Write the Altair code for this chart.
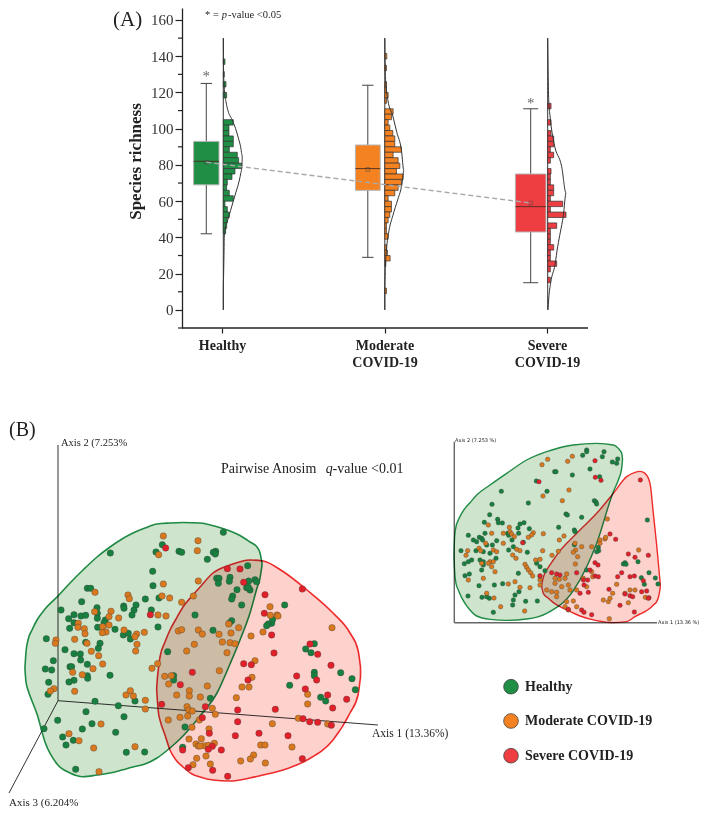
import altair as alt
import pandas as pd

SERIF = "Liberation Serif"
GROUPS = ["Healthy", "Moderate COVID-19", "Severe COVID-19"]
FILLS = ["#1f8f45", "#f58220", "#ee3e42"]
PT = ["#17803f", "#d9791f", "#e2202a"]

# ---------- Panel A values ----------
pos = [1, 2, 3]
box_lo = [69, 66, 43]
box_hi = [93, 91, 75]
median = [82, 78, 57]
mean = [81.5, 77.5, 59]
whisk_lo = [42, 29, 15]
whisk_hi = [125, 124, 111]
box_half = [12.7, 12.4, 15.3]
box_center = [-15.7, -16.7, -16.3]
cap_half = [5.7, 5.7, 7.5]

bins_h = [137, 130, 124.5, 118.5, 103.5, 100.5, 97.5, 94.5, 91.5, 88.5, 85.5, 82.5, 79.5, 76.5, 73.5, 70.5, 67.5, 64.5, 61.5, 58.5, 55.5, 52.5, 49.5, 46.5, 43.5]
freq_h = [5, 3, 8, 10, 30, 17, 17, 30, 30, 18, 42, 46, 55, 35, 26, 12, 10, 18, 30, 5, 12, 18, 12, 10, 7]
bins_m = [140, 133.5, 124.5, 121.5, 118.5, 115.5, 109.5, 106.5, 103.5, 100.5, 97.5, 94.5, 91.5, 88.5, 85.5, 82.5, 79.5, 76.5, 73.5, 70.5, 67.5, 64.5, 61.5, 58.5, 55.5, 52.5, 49.5, 46.5, 43.5, 40.5, 34.5, 31.5, 28.5, 25.5, 10.5]
freq_m = [6, 5, 5, 5, 10, 5, 25, 20, 10, 15, 24, 30, 30, 50, 25, 40, 45, 35, 55, 50, 40, 30, 10, 20, 20, 15, 10, 5, 5, 10, 5, 8, 16, 3, 5]
bins_s = [112.5, 103.5, 97.5, 94.5, 91.5, 88.5, 85.5, 82.5, 76.5, 73.5, 70.5, 67.5, 64.5, 61.5, 58.5, 55.5, 52.5, 46.5, 43.5, 40.5, 37.5, 34.5, 31.5, 28.5, 25.5, 22.5, 16.5]
freq_s = [10, 10, 10, 18, 18, 8, 18, 8, 10, 8, 8, 18, 18, 8, 45, 8, 55, 27, 8, 8, 8, 18, 8, 8, 27, 8, 8]

curve_y_h = [0, 10, 20, 30, 40, 45, 50, 55, 60, 65, 70, 75, 80, 85, 90, 95, 100, 105, 110, 115, 120, 130, 150]
curve_w_h = [0, 0, 1, 2, 3, 6, 14, 22, 30, 38, 46, 52, 56, 57, 52, 45, 37, 26, 14, 8, 4, 1, 0]
curve_y_m = [0, 10, 24, 33, 42, 52, 61, 70, 77, 88, 98, 107, 116, 125, 135, 150]
curve_w_m = [0, 0, 2, 5, 11, 24, 39, 52, 57, 50, 36, 24, 9, 3, 1, 0]
curve_y_s = [0, 6, 15, 25, 35, 43, 52, 64.5, 79, 92, 107, 116, 135, 150]
curve_w_s = [1, 3, 9, 22, 30, 38, 47, 55, 42, 19, 7, 3, 1, 0]

major_ticks = list(range(0, 161, 20))
minor_ticks = [-10, 10, 30, 50, 70, 90, 110, 130, 150]

# ---------- Panel B values (ordination positions) ----------
main_green = [(487,104),(468,126),(537,124),(545,127),(331,129),(458,184),(459,227),(262,235),(272,235),(436,267),(477,264),(245,275),(183,300),(291,293),(371,288),(372,295),(408,285),(402,300),(396,315),(454,300),(222,314),(206,326),(222,338),(243,318),(257,316),(292,310),(292,325),(316,330),(312,338),(209,355),(293,352),(345,358),(474,351),(139,386),(370,375),(385,370),(391,387),(257,397),(300,400),(295,415),(195,419),(222,431),(241,432),(242,450),(160,452),(262,463),(136,477),(155,480),(210,470),(215,470),(330,496),(262,497),(263,505),(146,517),(222,511),(207,516),(144,553),(285,574),(355,587),(405,573),(258,605),(372,620),(173,631),(132,656),(276,641),(247,657),(347,667),(188,681),(220,691),(198,705),(379,727),(434,726),(227,778),(503,425),(585,315),(521,497),(521,510),(555,651),
 (670,67),(647,124),(640,127),(646,132),(622,148),(743,167),(650,205),(657,205),(690,202),(688,214),(655,220),(746,213),(765,209),(770,215),(711,239),(740,233),(750,240),(745,232),(698,258),(695,267),(725,285),(854,285),(695,332),(688,340),(639,361),(815,340),(818,328),(805,342),(800,347),(917,417),(933,428),(943,401),(943,487),(943,497),(1022,488),(1056,506),(869,526),(1066,539),(962,562),(977,573),(631,565),(548,712)]
main_orange = [(490,78),(476,134),(490,222),(285,247),(384,255),(388,266),(486,258),(509,264),(545,277),(580,258),(333,304),(327,320),(356,324),(284,305),(474,315),(498,318),(235,340),(234,352),(253,356),(255,371),(327,345),(308,350),(318,366),(307,368),(372,360),(410,372),(405,380),(433,367),(168,390),(166,400),(224,388),(261,400),(411,403),(407,423),(274,424),(296,437),(308,462),(279,476),(218,487),(247,494),(456,475),(473,461),(162,536),(151,543),(224,544),(378,555),(391,542),(400,558),(436,571),(436,597),(303,642),(207,671),(237,692),(281,714),(405,710),(297,785),(535,363),(545,359),(583,403),(560,423),(595,360),(494,499),(514,497),(506,522),(530,555),(568,542),(568,558),(561,590),(566,600),(577,603),(505,630),(540,622),(563,618),(567,687),(588,702),(595,708),(590,745),(579,764),(595,213),(594,92),(592,122),(576,652),(598,630),
 (657,373),(607,372),(716,353),(693,369),(667,396),(690,398),(705,401),(681,428),(686,342),(810,290),(811,316),(831,315),(834,318),(753,378),(789,366),(996,353),(765,452),(756,502),(726,531),(747,531),(709,563),(658,482),(622,528),(601,561),(637,595),(646,613),(923,553),(923,582),(817,641),(895,625),(983,642),(876,711),(782,705),(795,705),(761,735),(751,747),(722,753),(796,759),(627,657),(604,686),(643,700),(613,707),(625,706),(618,738),(631,762),(600,708)]
main_red = [(497,114),(451,314),(577,487),(541,524),(485,583),(548,720),(565,773),
 (682,176),(720,177),(731,217),(795,254),(907,237),(793,310),(815,375),(822,429),(731,461),(754,464),(744,510),(890,498),(950,510),(916,537),(993,466),(983,555),(1040,568),(998,594),(826,598),(713,600),(713,635),(607,623),(616,590),(706,677),(777,670),(864,677),(628,670),(637,709),(625,718),(664,720),(683,799),(638,781),(907,746),(909,626),(929,635),(953,637),(994,646),(953,433),(930,402)]

inset_green = [(440,60),(440,65),(492,65),(428,76),(487,80),(533,87),(517,96),(530,100),(397,135),(450,117),(479,140),(344,125),(348,125),(289,153),(184,184),(321,184),(265,219),(156,223),(463,212),(468,216),(470,222),(425,262),(378,252),(382,255),(149,254),(133,277),(173,268),(175,278),(187,279),(252,278),(240,282),(234,294),(268,296),(356,292),(622,270),(85,316),(100,330),(110,335),(118,322),(125,325),(135,310),(203,310),(206,316),(216,330),(236,310),(403,300),(405,305),(170,332),(157,345),(140,345),(128,330),(250,337),(220,350),(206,360),(63,362),(108,362),(85,395),(73,401),(95,390),(130,365),(120,390),(130,395),(150,370),(168,385),(262,367),(290,400),(300,410),(403,344),(475,352),(476,362),(470,365),(555,398),(550,402),(558,403),(594,395),(604,443),(627,428),(646,444),(654,462),(613,463),(75,437),(88,432),(117,467),(163,465),(188,461),(235,430),(125,420),(130,405),(237,485),(225,495),(220,510),(84,498),(126,502),(148,505),(140,500),(218,525),(257,514),(292,513),(160,547),(315,422),(440,420)]
inset_orange = [(323,88),(306,104),(383,94),(397,79),(367,212),(309,198),(387,180),(145,285),(208,292),(210,305),(190,310),(215,312),(223,320),(155,310),(280,308),(310,311),(275,315),(265,322),(358,330),(372,318),(117,355),(122,362),(83,362),(78,376),(137,340),(160,360),(170,365),(190,340),(230,358),(240,362),(228,385),(218,375),(150,395),(160,395),(145,400),(155,410),(125,400),(287,390),(300,388),(255,403),(260,412),(265,420),(272,428),(278,438),(308,362),(355,364),(336,376),(165,425),(130,445),(85,450),(205,462),(225,455),(240,472),(270,473),(300,450),(300,465),(140,490),(162,504),(182,530),(254,543),(502,267),(495,327),(480,330),(497,322),(480,340),(405,340),(407,360),(400,367),(413,380),(425,350),(455,350),(406,402),(380,432),(375,445),(358,448),(345,445),(345,460),(365,470),(385,465),(390,480),(410,480),(320,480),(335,485),(350,487),(350,500),(375,530),(380,515),(400,513),(410,530),(455,425),(458,440),(430,445),(440,470),(490,510),(505,515),(510,505),(518,490),(530,463),(555,490),(565,518),(570,480),(596,360),(616,502),(585,480),(508,566),(385,540),(300,440)]
inset_red = [(465,92),(466,142),(483,151),(297,155),(601,150),(248,338),(510,312),(527,328),(565,372),(585,382),(625,376),(465,398),(474,405),(335,428),(350,432),(360,435),(410,428),(450,420),(465,438),(475,440),(443,450),(430,450),(432,465),(570,440),(583,438),(545,428),(533,440),(610,452),(605,485),(620,483),(627,503),(507,478),(555,492),(570,497),(578,500),(540,526),(425,540),(432,547),(455,554),(583,546),(385,538),(300,437),(420,490),(445,487),(625,505)]

hull_main_green_x = [25, 26, 28, 32, 37, 45, 57, 70, 83, 97, 110, 122, 133, 145, 157, 170, 183, 200, 217, 230, 240, 250, 257, 260, 262]
hull_main_green_t = [667, 652, 640, 630, 620, 609, 597, 583, 570, 557, 547, 539, 533, 528, 524, 523, 522.5, 523, 526.7, 531, 535.5, 542, 547, 553, 563]
hull_main_green_b = [670, 682, 690, 701, 714, 742, 764, 773, 776.7, 775, 773, 770, 767, 764, 758, 748, 736, 716, 693, 664, 640, 613, 588, 578, 565]
hull_main_red_x = [156.7, 157.5, 158.5, 160, 165, 170, 176, 183, 192, 200, 213, 230, 250, 263, 283, 307, 333, 350, 358, 360.5]
hull_main_red_t = [688, 677, 668, 657, 642, 630, 619, 607, 596, 587, 573, 565, 560, 561, 571.5, 590, 613, 633, 650, 667]
hull_main_red_b = [690, 702, 713, 720, 735, 750, 760, 767, 774, 777, 780, 781, 778, 775, 770, 760, 740, 713, 695, 677]
hull_inset_green_x = [42, 44, 48, 55, 65, 75, 90, 110, 150, 200, 260, 320, 400, 470, 520, 535, 545, 547.5]
hull_inset_green_t = [370, 318, 290, 270, 250, 235, 218, 195, 165, 130, 90, 65, 45, 40, 45, 55, 70, 85]
hull_inset_green_b = [380, 425, 460, 480, 503, 520, 540, 558, 568, 571, 567, 550, 482, 340, 185, 150, 115, 90]
hull_inset_red_x = [305, 310, 325, 340, 360, 380, 420, 470, 520, 560, 585, 600, 615, 630, 640, 650, 657, 661]
hull_inset_red_t = [465, 442, 412, 390, 362, 340, 300, 250, 190, 140, 127, 124, 130, 160, 250, 345, 420, 465]
hull_inset_red_b = [470, 490, 505, 518, 530, 540, 558, 572, 578, 575, 560, 552, 545, 535, 525, 515, 495, 470]

# ---------- Panel A ----------
W = 693
U = 162.5        # px per x unit
V = 1.8125       # px per y unit
X = lambda p: 1 + (p - 222) / U
Y = lambda p: (310 - p) / V
xs = alt.Scale(domain=[X(8), X(8 + W)], nice=False, zero=False)
ys = alt.Scale(domain=[-10, Y(8)], nice=False, zero=False)
cs = alt.Scale(domain=GROUPS, range=FILLS)
axis_x = alt.Axis(
    values=pos, title=None, grid=False, domain=False, tickSize=5, tickColor="#222", tickWidth=1.2,
    labelFont=SERIF, labelFontWeight="bold", labelFontSize=14, labelColor="#222",
    labelPadding=5, labelLineHeight=17,
    labelExpr="datum.value==1?'Healthy':datum.value==2?['Moderate','COVID-19']:['Severe','COVID-19']")
axis_y = alt.Axis(
    values=major_ticks, offset=-174, title="Species richness", grid=False,
    domainColor="#222", domainWidth=1.3, tickColor="#222", tickWidth=1.2, tickSize=7,
    labelFont=SERIF, labelFontSize=15, labelColor="#333", labelPadding=2,
    titleFont=SERIF, titleFontSize=17, titleFontWeight="bold", titleColor="#222",
    titlePadding=6, titleY=153)
xq = lambda f: alt.X(f, type="quantitative", scale=xs, axis=axis_x)
yq = lambda f: alt.Y(f, type="quantitative", scale=ys, axis=axis_y)
col = alt.Color("g:N", scale=cs, legend=None)

box = pd.DataFrame({
    "g": GROUPS, "p": pos, "lo": box_lo, "hi": box_hi, "med": median, "mean": mean,
    "wl": whisk_lo, "wh": whisk_hi})
box["c"] = box.p + pd.Series(box_center) / U
box["x0"] = box.c - pd.Series(box_half) / U
box["x1"] = box.c + pd.Series(box_half) / U
box["c0"] = box.c - pd.Series(cap_half) / U
box["c1"] = box.c + pd.Series(cap_half) / U

base_off = [1.3, 0.3, 0.7]
hist = pd.concat([
    pd.DataFrame({"g": GROUPS[i], "b": b, "f": f, "p": pos[i] + base_off[i] / U})
    for i, (b, f) in enumerate([(bins_h, freq_h), (bins_m, freq_m), (bins_s, freq_s)])])
hist["x0"] = hist.p
hist["x1"] = hist.p + hist.f / 3 / U
hist["y0"] = hist.b - 1.5
hist["y1"] = hist.b + 1.5

curve = pd.concat([
    pd.DataFrame({"g": GROUPS[i], "y": cy, "w": cw, "p": pos[i] + base_off[i] / U})
    for i, (cy, cw) in enumerate([(curve_y_h, curve_w_h), (curve_y_m, curve_w_m), (curve_y_s, curve_w_s)])])
curve["x"] = curve.p + curve.w / 3 / U

spine_df = pd.DataFrame({"p": [pos[i] + base_off[i] / U for i in range(3)], "a": [0, 0, 0], "b": [150, 150, 150]})
x_line = pd.DataFrame({"a": [X(182)], "b": [X(588)], "y": [-10]})
minor = pd.DataFrame({"y": minor_ticks, "a": X(182) - 4 / U, "b": X(182)})
trend = pd.DataFrame({"x": [box.c[0], box.c[2]], "y": [mean[0], mean[2]]})
stars = pd.DataFrame({"x": [box.c[0], box.c[2]], "y": [Y(76), Y(103)], "t": ["*", "*"]})

frame = alt.Chart(x_line).mark_rule(color="#222", strokeWidth=1.3).encode(x=xq("a"), x2="b:Q", y=yq("y"))
minors = alt.Chart(minor).mark_rule(color="#222", strokeWidth=1.2).encode(x=xq("a"), x2="b:Q", y=yq("y"))
whisk = alt.Chart(box).mark_rule(color="#444", strokeWidth=1).encode(x=xq("c"), y=yq("wl"), y2="wh:Q")
cap_l = alt.Chart(box).mark_rule(color="#444", strokeWidth=1).encode(x=xq("c0"), x2="c1:Q", y=yq("wl"))
cap_h = alt.Chart(box).mark_rule(color="#444", strokeWidth=1).encode(x=xq("c0"), x2="c1:Q", y=yq("wh"))
boxes = alt.Chart(box).mark_rect(stroke="#b5b5b5", strokeWidth=1).encode(
    x=xq("x0"), x2="x1:Q", y=yq("lo"), y2="hi:Q", color=col)
meds = alt.Chart(box).mark_rule(color="#4a2a20", strokeWidth=1.1, strokeOpacity=0.8).encode(x=xq("x0"), x2="x1:Q", y=yq("med"))
means = alt.Chart(box).mark_point(shape="square", size=14, stroke="#444", strokeWidth=0.7, filled=False).encode(x=xq("c"), y=yq("mean"))
spine = alt.Chart(spine_df).mark_rule(color="#333", strokeWidth=1).encode(x=xq("p"), y=yq("a"), y2="b:Q")
bars = alt.Chart(hist).mark_rect(stroke="#333333", strokeWidth=0.7).encode(
    x=xq("x0"), x2="x1:Q", y=yq("y0"), y2="y1:Q", color=col)
curves = alt.Chart(curve).mark_line(color="#333", strokeWidth=1, interpolate="monotone").encode(
    x=xq("x"), y=yq("y"), detail="g:N", order="y:Q")
trendline = alt.Chart(trend).mark_line(color="#a8a8a8", strokeWidth=1.4, strokeDash=[5, 3]).encode(x=xq("x"), y=yq("y"))
star_text = alt.Chart(stars).mark_text(font=SERIF, fontSize=15, color="#666", baseline="middle").encode(x=xq("x"), y=yq("y"), text="t:N")


def label(x, y, t, size, enc_x, enc_y, **kw):
    d = pd.DataFrame({"x": [x], "y": [y], "t": [t]})
    base = dict(font=SERIF, fontSize=size, align="left", baseline="middle", color="#222")
    base.update(kw)
    return alt.Chart(d).mark_text(**base).encode(x=enc_x("x"), y=enc_y("y"), text="t:N")


top = alt.layer(
    frame, minors, whisk, cap_l, cap_h, boxes, meds, means, spine, bars, curves, trendline, star_text,
    label(X(113), Y(20), "(A)", 21, xq, yq),
    label(X(205), Y(15), "* = ", 10.5, xq, yq),
    label(X(221.7), Y(15), "p", 10.5, xq, yq, fontStyle="italic"),
    label(X(228), Y(15), "-value <0.05", 10.5, xq, yq),
).properties(width=W, height=320)

# ---------- Panel B ----------
TOP_B = 378
BOT_B = 810
bx = alt.Scale(domain=[8, 8 + W], nice=False, zero=False)
by = alt.Scale(domain=[BOT_B, TOP_B], nice=False, zero=False)
bxq = lambda f: alt.X(f, type="quantitative", scale=bx, axis=None)
byq = lambda f: alt.Y(f, type="quantitative", scale=by, axis=None)


def hull(xv, tv, bv, fill, stroke, sw, dx=0.0, dy=0.0, k=1.0):
    d = pd.DataFrame({"x": xv, "t": tv, "b": bv})
    d["x"] = dx + d.x / k
    d["t"] = dy + d.t / k
    d["b"] = dy + d.b / k
    return alt.Chart(d).mark_area(
        interpolate="monotone", fill=fill, stroke=stroke, strokeWidth=sw, blend="multiply"
    ).encode(x=bxq("x"), y=byq("t"), y2="b:Q")


def pts(points, color, size, dx, dy):
    d = pd.DataFrame(points, columns=["x", "y"])
    d["x"] = dx + d.x / 3
    d["y"] = dy + d.y / 3
    return alt.Chart(d).mark_circle(size=size, color=color, opacity=1, stroke="#3a3a3a", strokeWidth=0.5, strokeOpacity=0.7).encode(
        x=bxq("x"), y=byq("y"))


def seg(x0, y0, x1, y1, color, sw):
    d = pd.DataFrame({"a": [x0], "b": [x1], "c": [y0], "e": [y1]})
    return alt.Chart(d).mark_rule(color=color, strokeWidth=sw).encode(x=bxq("a"), x2="b:Q", y=byq("c"), y2="e:Q")


GF, GS = "#cfe4cd", "#1f8a44"
RF, RS = "#fdd2cd", "#ee2b2b"

legend_df = pd.DataFrame({"g": GROUPS, "x": [511, 511, 511], "y": [686.7, 721, 755.7]})
legend_pts = alt.Chart(legend_df).mark_circle(size=215, opacity=1, stroke="#444", strokeWidth=0.8).encode(
    x=bxq("x"), y=byq("y"), color=alt.Color("g:N", scale=alt.Scale(domain=GROUPS, range=["#1c8445", "#ee7d2b", "#ee2b2b"]), legend=None))
legend_df["tx"] = 525
legend_txt = alt.Chart(legend_df).mark_text(font=SERIF, fontSize=14, fontWeight="bold", align="left", baseline="middle", color="#222").encode(
    x=bxq("tx"), y=byq("y"), text="g:N")

SANS = "DejaVu Sans"
bottom = alt.layer(
    seg(58, 700.7, 58, 445, "#333", 1),
    seg(58, 700.7, 378, 725, "#333", 1),
    seg(58, 700.7, 9, 793, "#333", 1),
    seg(454.3, 622.7, 454.3, 441.7, "#666", 1.4),
    seg(454.3, 622.7, 657, 622.7, "#666", 1.4),
    hull(hull_main_green_x, hull_main_green_t, hull_main_green_b, GF, GS, 1.6),
    hull(hull_main_red_x, hull_main_red_t, hull_main_red_b, RF, RS, 1.6),
    hull(hull_inset_green_x, hull_inset_green_t, hull_inset_green_b, GF, GS, 1.4, 440, 430, 3),
    hull(hull_inset_red_x, hull_inset_red_t, hull_inset_red_b, RF, RS, 1.4, 440, 430, 3),
    pts(main_green, PT[0], 42, 0, 510),
    pts(main_orange, PT[1], 42, 0, 510),
    pts(main_red, PT[2], 42, 0, 510),
    pts(inset_green, PT[0], 21, 440, 430),
    pts(inset_orange, PT[1], 21, 440, 430),
    pts(inset_red, PT[2], 21, 440, 430),
    legend_pts, legend_txt,
    label(9, 430, "(B)", 20, bxq, byq),
    label(61, 443, "Axis 2 (7.253%", 10.5, bxq, byq),
    label(372, 733.5, "Axis 1 (13.36%)", 11.5, bxq, byq),
    label(9, 803, "Axis 3 (6.204%", 11, bxq, byq),
    label(221, 469, "Pairwise Anosim", 14, bxq, byq),
    label(325.7, 469, "q", 14, bxq, byq, fontStyle="italic"),
    label(332.5, 469, "-value <0.01", 14, bxq, byq),
    label(455, 440, "Axis 2 (7.253 %)", 5, bxq, byq, font=SANS),
    label(658, 622, "Axis 1 (13.36 %)", 5, bxq, byq, font=SANS),
).properties(width=W, height=BOT_B - TOP_B)

chart = alt.vconcat(top, bottom, spacing=TOP_B - 328).properties(padding=0, bounds="flush").configure_view(stroke=None)
chart.save("out.html", embed_options={"renderer": "svg", "actions": False})
